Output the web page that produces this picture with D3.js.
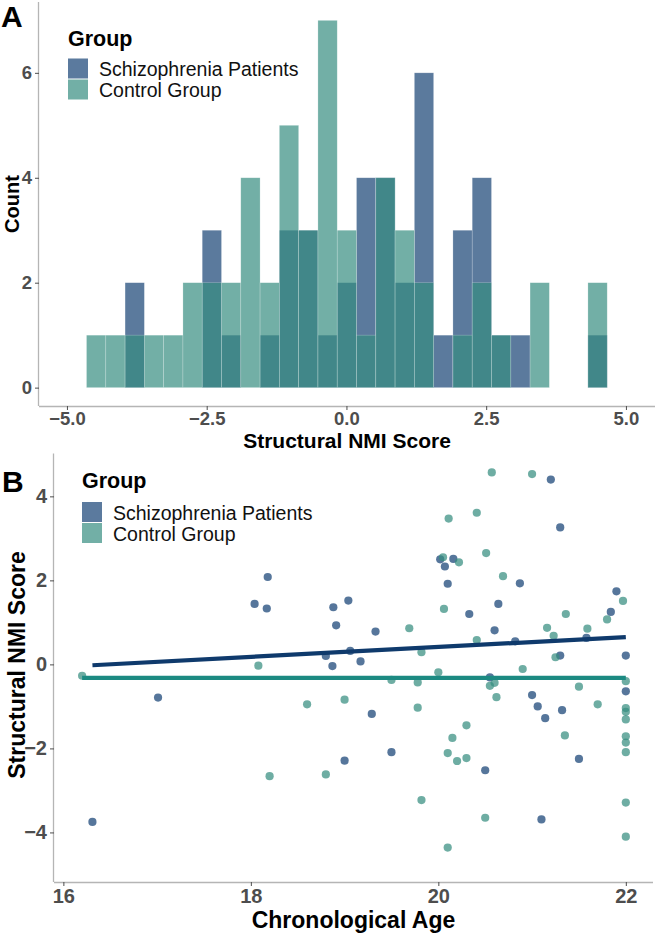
<!DOCTYPE html>
<html>
<head>
<meta charset="utf-8">
<script src="https://cdn.jsdelivr.net/npm/d3@7"></script>
<style>
  html, body { margin: 0; padding: 0; background: #fff; }
  svg { display: block; }
  text { font-family: "Liberation Sans", Arial, Helvetica, sans-serif; }
</style>
</head>
<body>
<div id="chart"></div>
<script>
// ---------------- DATA ----------------
const groups = ["Schizophrenia Patients", "Control Group"];

// Panel A: histogram (27 shared bins)
const binStart = -4.65;
const binWidth = 0.345;
const schizoCounts  = [0,0,2,0,0,0,3,1,0,1,3,3,1,2,4,4,2,6,1,3,4,1,1,0,0,0,1];
const controlCounts = [1,1,1,1,1,2,2,2,4,2,5,3,7,3,1,4,3,2,0,1,2,1,0,2,0,0,2];
const histXTicks = [-5, -2.5, 0, 2.5, 5];
const histYTicks = [0, 2, 4, 6];

// Panel B: scatter (age, Structural NMI score)
const schizoAge = [16.31,17.01,18.04,18.18,18.17,18.80,18.87,18.88,18.91,19.04,19.06,19.17,19.33,19.29,19.50,19.00,
  20.02,20.07,20.16,20.10,20.33,20.50,20.55,20.60,20.64,20.82,20.87,21.00,21.06,21.10,21.14,21.20,21.30,21.30,21.32,
  21.50,21.58,21.84,21.90,22.00,22.00];
const schizoScore = [-3.75,-0.79,1.44,2.08,1.33,0.20,-0.04,1.36,0.93,1.52,0.32,0.07,0.78,-1.18,-2.09,-2.29,
  2.50,2.33,2.51,1.92,1.20,-2.52,-0.31,0.81,1.44,0.55,1.93,-0.73,-1.00,-3.69,-1.28,4.40,3.26,0.21,-1.09,
  -2.25,0.63,1.25,1.74,0.21,-0.64];
const controlAge = [16.20,18.08,18.20,18.60,18.80,19.00,19.50,19.69,19.78,19.78,19.82,19.82,20.00,20.05,20.06,20.10,
  20.10,20.11,20.15,20.20,20.22,20.30,20.30,20.41,20.41,20.50,20.51,20.55,20.57,20.60,20.62,20.69,20.90,21.00,
  21.16,21.23,21.25,21.35,21.36,21.50,21.59,21.70,21.80,21.97,22.00,22.00,22.00,22.00,22.00,22.00,22.00,22.00,22.00];
const controlScore = [-0.27,-0.03,-2.66,-0.95,-2.62,-0.84,-0.37,0.86,-0.43,-1.03,0.29,-3.23,-0.19,2.55,1.32,-2.11,
  -4.36,3.47,-1.75,-2.30,2.43,-2.23,-1.45,3.61,0.58,-3.65,2.65,-0.51,4.57,-0.44,-0.78,2.10,-0.11,4.53,
  0.87,0.68,0.17,-1.69,1.20,-0.53,0.85,-0.95,1.07,1.51,-0.40,-1.04,-1.13,-1.31,-1.71,-1.86,-2.09,-3.29,-4.10];
// fitted regression lines (endpoints)
const schizoFitAge = [16.31, 22.0];
const schizoFitScore = [-0.02, 0.65];
const controlFitAge = [16.20, 22.0];
const controlFitScore = [-0.32, -0.32];
const scatXTicks = [16, 18, 20, 22];
const scatYTicks = [-4, -2, 0, 2, 4];

// ---------------- STYLE ----------------
const baseCol = { s: "#154174", c: "#368d80" };
const keyCol  = { s: "#5b7a9e", c: "#72afa6" };
const lineCol = { s: "#0f3a6c", c: "#1c8a82" };
const tickCol = "#4d4d4d";
const axisCol = "#b5b5b5";

const W = 656, H = 934;
const svg = d3.select("#chart").append("svg").attr("width", W).attr("height", H);

// ---------------- PANEL A ----------------
const xA = d3.scaleLinear().domain([-5.5, 5.52]).range([39, 655]);
const yA = d3.scaleLinear().domain([-0.35, 7.35]).range([406, 2]);
const gA = svg.append("g");

const bins = schizoCounts.map((d, i) => ({
  x0: binStart + i * binWidth, x1: binStart + (i + 1) * binWidth,
  s: d, c: controlCounts[i]
}));

function drawBars(key) {
  gA.append("g").selectAll("rect").data(bins.filter(b => b[key] > 0)).join("rect")
    .attr("x", d => xA(d.x0))
    .attr("width", d => xA(d.x1) - xA(d.x0))
    .attr("y", d => yA(d[key]))
    .attr("height", d => yA(0) - yA(d[key]))
    .attr("fill", baseCol[key]).attr("fill-opacity", 0.7)
    .attr("stroke", "#ffffff").attr("stroke-opacity", 0.35).attr("stroke-width", 0.6);
}
drawBars("s");
drawBars("c");

function styleAxis(a, fs) {
  a.select(".domain").attr("stroke", axisCol).attr("stroke-width", 1.3);
  a.selectAll(".tick line").attr("stroke", tickCol).attr("stroke-width", 1);
  a.selectAll(".tick text").attr("fill", tickCol).attr("font-size", fs).attr("font-weight", "bold")
    .attr("font-family", '"Liberation Sans", Arial, sans-serif');
}

// axes A
const axA = gA.append("g").attr("transform", `translate(0,406)`)
  .call(d3.axisBottom(xA).tickValues(histXTicks).tickFormat(d3.format(".1f")).tickSize(4).tickPadding(1.5));
const ayA = gA.append("g").attr("transform", `translate(39,0)`)
  .call(d3.axisLeft(yA).tickValues(histYTicks).tickSize(4).tickPadding(3));
styleAxis(axA, 18.5);
styleAxis(ayA, 18.5);
axA.select(".domain").attr("d", "M39,0.5H655");
ayA.select(".domain").attr("d", "M-0.5,2V406");

gA.append("text").attr("x", 347).attr("y", 448).attr("text-anchor", "middle")
  .attr("font-size", 21).attr("font-weight", "bold").text("Structural NMI Score");
gA.append("text").attr("transform", "translate(18.5,204) rotate(-90)").attr("text-anchor", "middle")
  .attr("font-size", 20).attr("font-weight", "bold").text("Count");
svg.append("text").attr("x", 1).attr("y", 27).attr("font-size", 30).attr("font-weight", "bold").text("A");

// legends
function legend(g, x, yTitle, yKey0, labelX) {
  g.append("text").attr("x", x).attr("y", yTitle).attr("font-size", 21.5).attr("font-weight", "bold").text("Group");
  const keys = ["s", "c"];
  groups.forEach((name, i) => {
    g.append("rect").attr("x", x).attr("y", yKey0 + i * 21).attr("width", 20).attr("height", 20)
      .attr("fill", keyCol[keys[i]]);
    g.append("text").attr("x", labelX).attr("y", yKey0 + i * 21 + 17.5).attr("font-size", 19.5)
      .attr("fill", "#111").text(name);
  });
}
legend(gA, 68, 46, 58.5, 99);

// ---------------- PANEL B ----------------
const xB = d3.scaleLinear().domain([15.9, 22.29]).range([54, 653]);
const yB = d3.scaleLinear().domain([-5.18, 5.02]).range([882, 453.5]);
const gB = svg.append("g");

const axB = gB.append("g").attr("transform", `translate(0,882)`)
  .call(d3.axisBottom(xB).tickValues(scatXTicks).tickFormat(d3.format("d")).tickSize(4).tickPadding(3));
const ayB = gB.append("g").attr("transform", `translate(54,0)`)
  .call(d3.axisLeft(yB).tickValues(scatYTicks).tickFormat(d3.format("d")).tickSize(4).tickPadding(3));
styleAxis(axB, 20);
styleAxis(ayB, 20);
axB.select(".domain").attr("d", "M54,0.5H653");
ayB.select(".domain").attr("d", "M-0.5,453.5V882");

const schizoPts = schizoAge.map((a, i) => ({ a, v: schizoScore[i] }));
const controlPts = controlAge.map((a, i) => ({ a, v: controlScore[i] }));
gB.append("g").selectAll("circle").data(schizoPts).join("circle")
  .attr("cx", d => xB(d.a)).attr("cy", d => yB(d.v)).attr("r", 4.1)
  .attr("fill", baseCol.s).attr("fill-opacity", 0.72);
gB.append("g").selectAll("circle").data(controlPts).join("circle")
  .attr("cx", d => xB(d.a)).attr("cy", d => yB(d.v)).attr("r", 4.1)
  .attr("fill", baseCol.c).attr("fill-opacity", 0.72);

const line = d3.line().x(d => xB(d[0])).y(d => yB(d[1]));
gB.append("path").datum(schizoFitAge.map((a, i) => [a, schizoFitScore[i]]))
  .attr("d", line).attr("stroke", lineCol.s).attr("stroke-width", 4.2).attr("fill", "none");
gB.append("path").datum(controlFitAge.map((a, i) => [a, controlFitScore[i]]))
  .attr("d", line).attr("stroke", lineCol.c).attr("stroke-width", 4.2).attr("fill", "none");

gB.append("text").attr("x", 353.5).attr("y", 928).attr("text-anchor", "middle")
  .attr("font-size", 23).attr("font-weight", "bold").text("Chronological Age");
gB.append("text").attr("transform", "translate(25,665) rotate(-90)").attr("text-anchor", "middle")
  .attr("font-size", 23).attr("font-weight", "bold").text("Structural NMI Score");
svg.append("text").attr("x", 2).attr("y", 492).attr("font-size", 30).attr("font-weight", "bold").text("B");

legend(gB, 82, 488, 502, 113);
</script>
</body>
</html>
